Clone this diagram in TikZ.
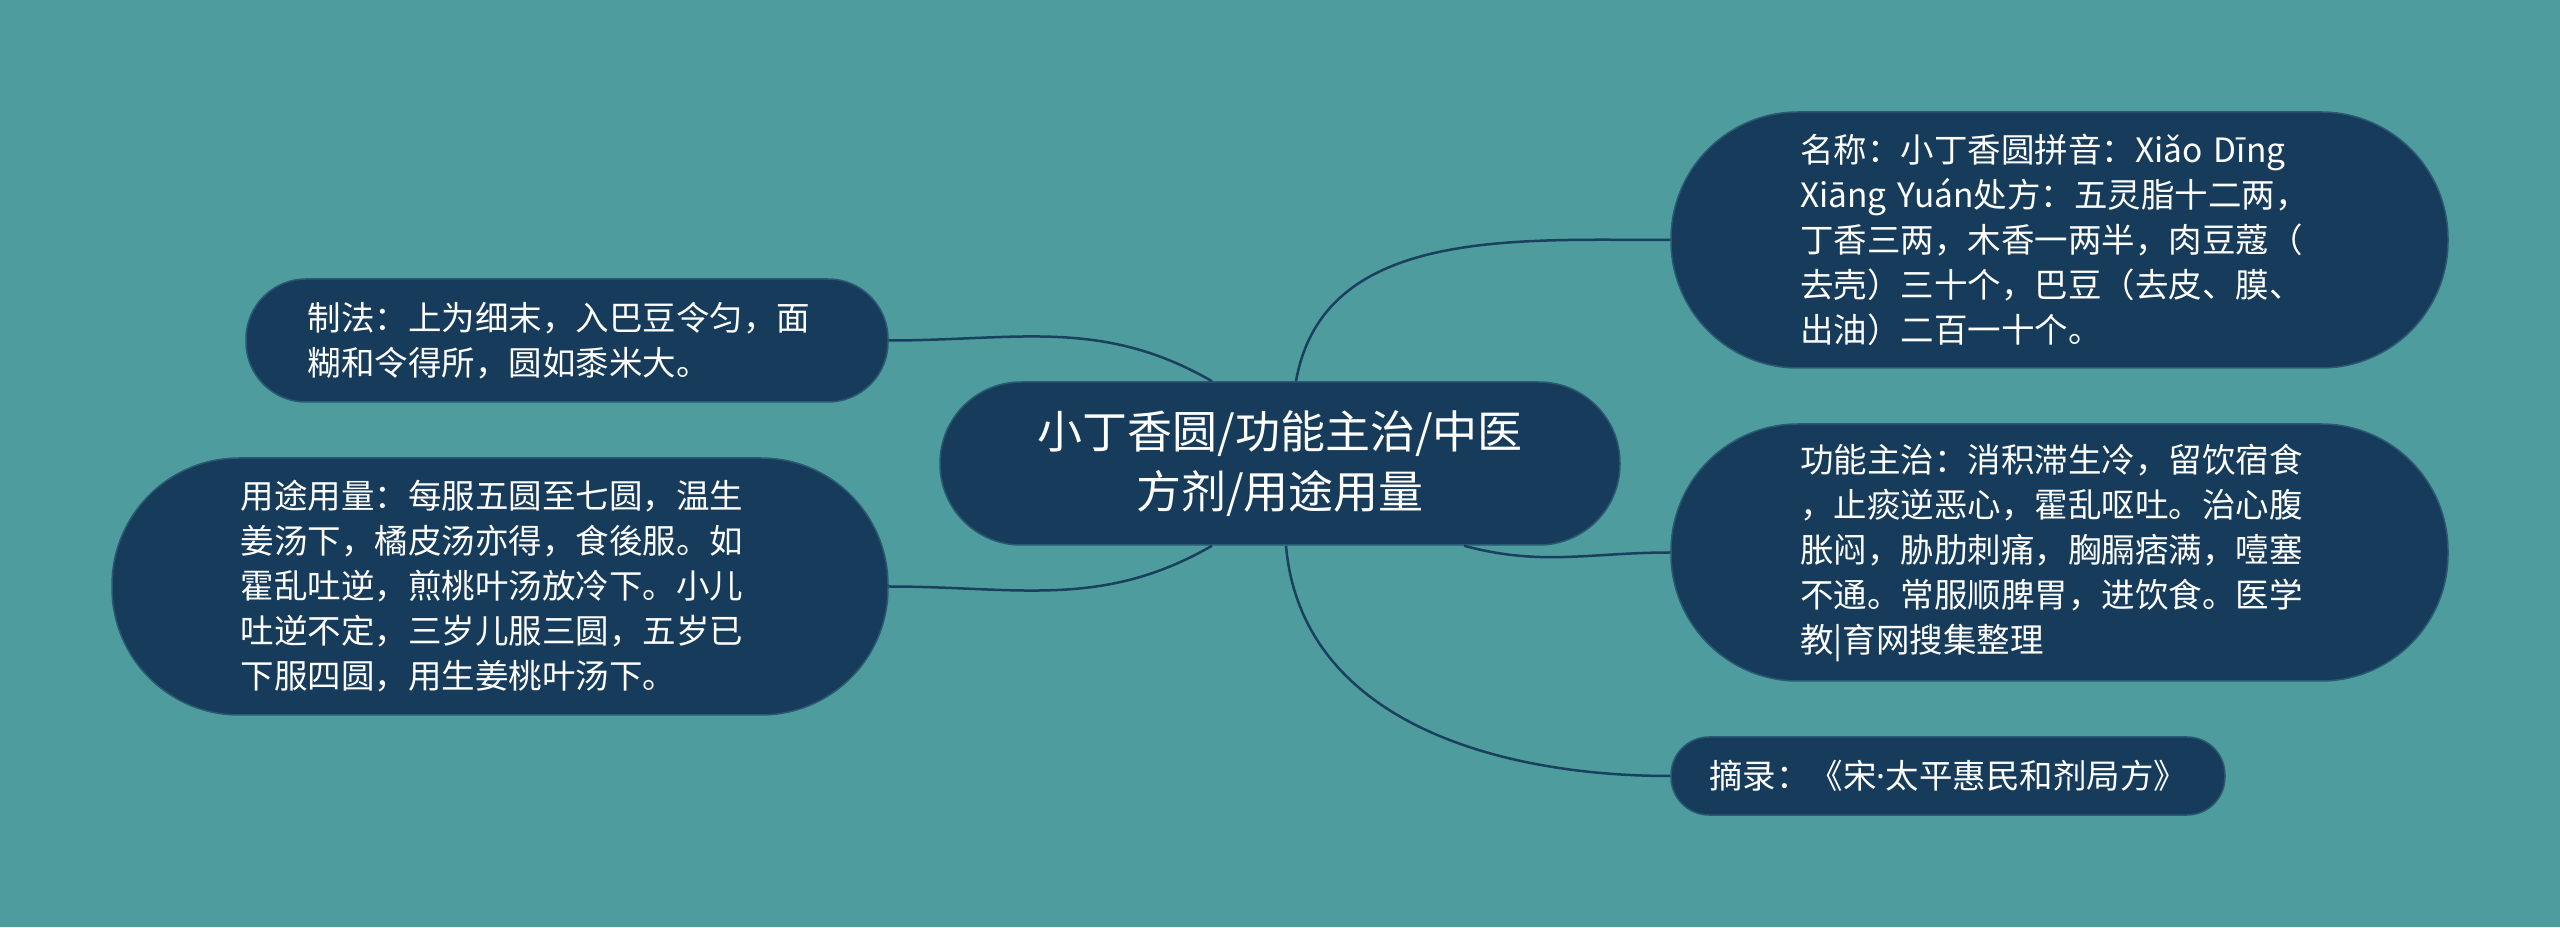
\documentclass[tikz,border=0pt]{standalone}
\usepackage{fontspec}
\newfontfamily\cjk{Noto Sans CJK SC}
\newfontfamily\latinfont{Noto Sans}
\usetikzlibrary{shapes, positioning, calc}

\definecolor{bgteal}{HTML}{4E9C9D}
\definecolor{navy}{HTML}{173C5B}
\definecolor{rimblue}{HTML}{2A5A72}
\definecolor{linkblue}{HTML}{1A3F5F}

\begin{document}
\begin{tikzpicture}[x=1pt, y=1pt]

  \tikzset{box/.style={draw=rimblue, line width=1.5pt, fill=navy, text=white, inner sep=0pt}}
  \tikzset{leaf/.style={box, align=left, text width=519pt, font=\cjk\fontsize{33.5}{45}\selectfont}}
  \tikzset{hubbox/.style={box, align=center, font=\cjk\fontsize{45}{60}\selectfont}}
  \tikzset{link/.style={line width=2.5pt, linkblue}}

  % canvas
  \fill[bgteal] (0, 0) rectangle (2560, 927);
  \useasboundingbox (0, 0) rectangle (2560, 927);

  % central topic
  \node[hubbox, minimum width=680pt, minimum height=163pt, rounded corners=81pt] at (1280, 463.5) (hub)
    {小丁香圆/功能主治/中医\\方剂/用途用量};

  % right branches
  \node[leaf, minimum width=777pt, minimum height=256pt, rounded corners=127pt] at (2059.5, 687) (name)
    {名称：小丁香圆拼音：Xiǎo Dīng\\Xiāng Yuán处方：五灵脂十二两，\\丁香三两，木香一两半，肉豆蔻（\\去壳）三十个，巴豆（去皮、膜、\\出油）二百一十个。};
  \node[leaf, minimum width=777pt, minimum height=257pt, rounded corners=127pt] at (2059.5, 374.5) (func)
    {功能主治：消积滞生冷，留饮宿食\\，止痰逆恶心，霍乱呕吐。治心腹\\胀闷，胁肋刺痛，胸膈痞满，噎塞\\不通。常服顺脾胃，进饮食。医学\\教|育网搜集整理};
  \node[box, font=\cjk\fontsize{33.5}{45}\selectfont, minimum width=554pt, minimum height=78pt, rounded corners=38pt] at (1948, 151) (src)
    {摘录：《宋{\latinfont ·}太平惠民和剂局方》};

  % left branches
  \node[leaf, minimum width=642pt, minimum height=123pt, rounded corners=60pt] at (567, 586.5) (prep)
    {制法：上为细末，入巴豆令匀，面\\糊和令得所，圆如黍米大。};
  \node[leaf, minimum width=776pt, minimum height=257pt, rounded corners=127pt] at (500, 340.5) (dose)
    {用途用量：每服五圆至七圆，温生\\姜汤下，橘皮汤亦得，食後服。如\\霍乱吐逆，煎桃叶汤放冷下。小儿\\吐逆不定，三岁儿服三圆，五岁已\\下服四圆，用生姜桃叶汤下。};

  % connectors
  \draw[link] ($(hub.north)+(16, 0)$) to[out=80, in=180] (name.west);
  \draw[link] ($(hub.south)+(184, 0)$) to[out=-15, in=180] (func.west);
  \draw[link] ($(hub.south)+(6, 0)$) to[out=-85, in=180] (src.west);
  \draw[link] ($(hub.north)+(-68, 0)$) to[out=150, in=0] (prep.east);
  \draw[link] ($(hub.south)+(-68, 0)$) to[out=-150, in=0] (dose.east);
\end{tikzpicture}
\end{document}
